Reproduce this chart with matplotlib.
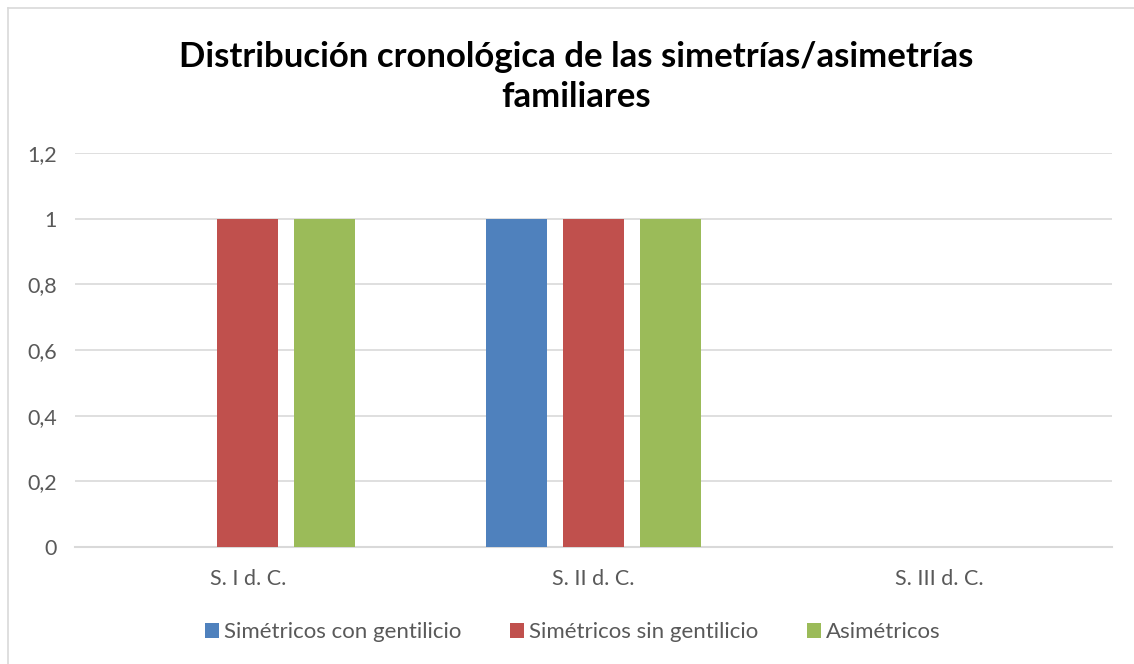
import matplotlib.pyplot as plt
import numpy as np
from matplotlib.lines import Line2D

plt.rcParams["font.family"] = ["Lato", "DejaVu Sans"]

CATEGORIES = ["S. I d. C.", "S. II d. C.", "S. III d. C."]
SERIES = ["Simétricos con gentilicio", "Simétricos sin gentilicio", "Asimétricos"]
CON_GENTILICIO = [0, 1, 0]
SIN_GENTILICIO = [1, 1, 0]
ASIMETRICOS = [1, 1, 0]
YTICKS = [0, 0.2, 0.4, 0.6, 0.8, 1, 1.2]

COLORS = ["#4f81bd", "#c0504d", "#9bbb59"]
GRID = "#d9d9d9"
TXT = "#595959"

W, H = 1134, 664
fig = plt.figure(figsize=(W / 100, H / 100), dpi=100)
ax = fig.add_axes([75 / W, 117 / H, (1112 - 75) / W, 394 / H])

x = np.arange(len(CATEGORIES))
bw = 0.176
step = 0.223
for j, (vals, name) in enumerate(zip([CON_GENTILICIO, SIN_GENTILICIO, ASIMETRICOS], SERIES)):
    ax.bar(x + (j - 1) * step, vals, width=bw, color=COLORS[j], label=name, zorder=3)

ax.set_xlim(-0.5, 2.5)
ax.set_ylim(0, 1.2)
ax.set_yticks(YTICKS)
ax.set_yticklabels([f"{v:g}".replace(".", ",") for v in YTICKS], color=TXT, fontsize=15.5)
ax.set_xticks(x)
ax.set_xticklabels(CATEGORIES, color=TXT, fontsize=15.5)
ax.tick_params(length=0)
ax.tick_params(axis="y", pad=13)
ax.tick_params(axis="x", pad=16)
ax.grid(axis="y", color=GRID, lw=1.2, zorder=0)
for s in ["top", "right", "left"]:
    ax.spines[s].set_visible(False)
ax.spines["bottom"].set_color(GRID)
ax.spines["bottom"].set_linewidth(1.5)

fig.text(576 / W, 1 - 77 / H, "Distribución cronológica de las simetrías/asimetrías\nfamiliares",
         ha="center", va="center", fontsize=25, fontweight="bold", color="black", linespacing=1.3)

ax.legend(loc="center", bbox_to_anchor=(0.505, 1 - 632 / H), bbox_transform=fig.transFigure,
          ncol=3, frameon=False, fontsize=16, labelcolor=TXT, handlelength=0.65, handleheight=0.65,
          handletextpad=0.2, columnspacing=2.2)

# outer chart border (left and top visible)
fig.add_artist(Line2D([8 / W, 8 / W], [0, 1 - 8 / H], color=GRID, lw=1.2, transform=fig.transFigure))
fig.add_artist(Line2D([8 / W, 1], [1 - 8 / H, 1 - 8 / H], color=GRID, lw=1.2, transform=fig.transFigure))

fig.savefig("out.png", dpi=100, facecolor="white")
